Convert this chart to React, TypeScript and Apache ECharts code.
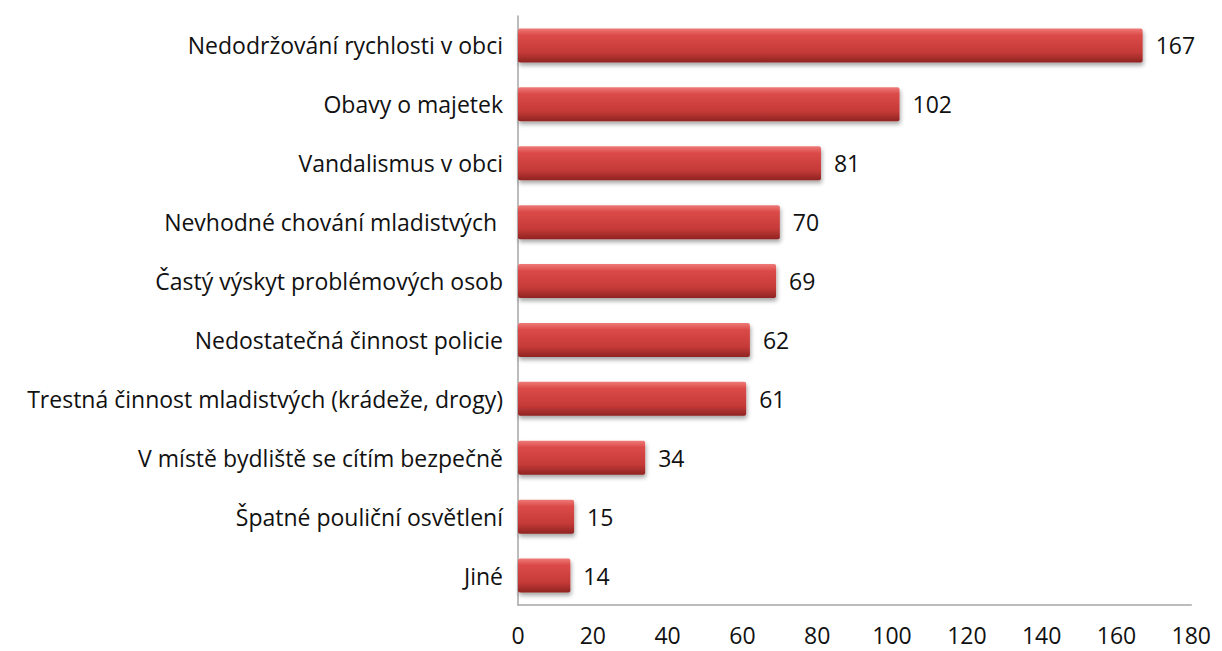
import React, { useEffect, useRef } from "react";
import * as echarts from "echarts";

const categories = [
  "Nedodržování rychlosti v obci",
  "Obavy o majetek",
  "Vandalismus v obci",
  "Nevhodné chování mladistvých ",
  "Častý výskyt problémových osob",
  "Nedostatečná činnost policie",
  "Trestná činnost mladistvých (krádeže, drogy)",
  "V místě bydliště se cítím bezpečně",
  "Špatné pouliční osvětlení",
  "Jiné",
];
const values = [167, 102, 81, 70, 69, 62, 61, 34, 15, 14];
const xTicks = [0, 20, 40, 60, 80, 100, 120, 140, 160, 180];

export default function App() {
  const ref = useRef<HTMLDivElement>(null);
  useEffect(() => {
    const chart = echarts.init(ref.current!, null, { renderer: "svg" });
    const font = "Open Sans, Noto Sans, sans-serif";
    chart.setOption({
      animation: false,
      grid: { left: 510, right: 19, top: 8, bottom: 46 },
      xAxis: {
        type: "value",
        min: xTicks[0],
        max: xTicks[xTicks.length - 1],
        interval: 20,
        axisLine: { show: true, lineStyle: { color: "#a6a6a6", width: 1.5 } },
        axisTick: { show: false },
        splitLine: { show: false },
        axisLabel: { color: "#111", fontSize: 23, fontFamily: font, margin: 18 },
      },
      yAxis: {
        type: "category",
        data: categories.slice().reverse(),
        axisLine: { show: true, lineStyle: { color: "#a6a6a6", width: 1.5 } },
        axisTick: { show: false },
        axisLabel: { color: "#111", fontSize: 23, fontFamily: font, margin: 15 },
      },
      series: [
        {
          type: "bar",
          data: values.slice().reverse(),
          barWidth: 34,
          itemStyle: {
            color: new echarts.graphic.LinearGradient(0, 0, 0, 1, [
              { offset: 0, color: "#ee7a78" },
              { offset: 0.2, color: "#db4a48" },
              { offset: 0.7, color: "#c53a38" },
              { offset: 1, color: "#8f2422" },
            ]),
            borderRadius: 2,
            shadowColor: "rgba(0,0,0,0.35)",
            shadowBlur: 4,
            shadowOffsetX: 1,
            shadowOffsetY: 3,
          },
          label: {
            show: true,
            position: "right",
            distance: 13,
            color: "#111",
            fontSize: 23,
            fontFamily: font,
          },
        },
      ],
    });
    return () => chart.dispose();
  }, []);
  return <div ref={ref} style={{ width: 1206, height: 643 }} />;
}
